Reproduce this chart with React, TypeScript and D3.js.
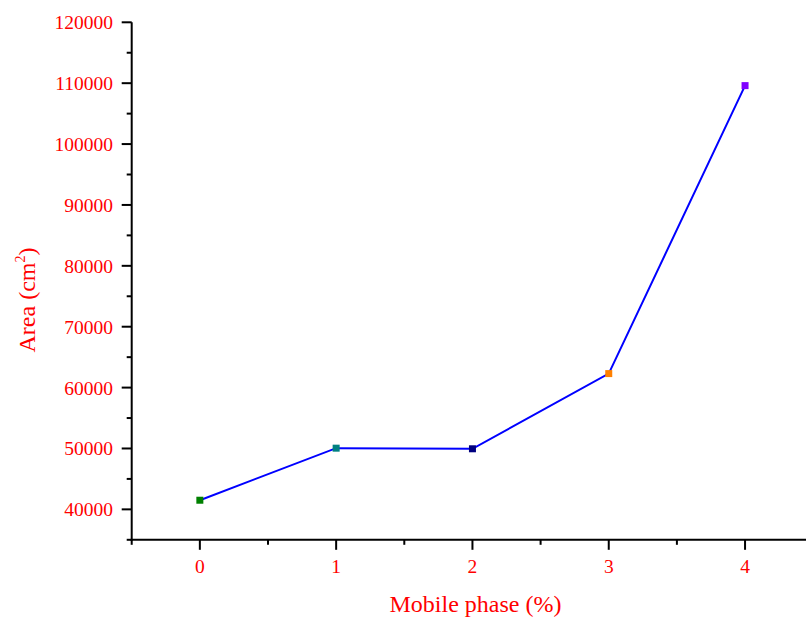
import React from "react";
import * as d3 from "d3";

const xValues = [0, 1, 2, 3, 4];
const areaValues = [41500, 50050, 49950, 62300, 109600];
const markerColors = ["#008000", "#008080", "#000080", "#FF8000", "#8000FF"];
const yTicks = [40000, 50000, 60000, 70000, 80000, 90000, 100000, 110000, 120000];
const yMinorTicks = [35000, 45000, 55000, 65000, 75000, 85000, 95000, 105000, 115000];
const xTicks = [0, 1, 2, 3, 4];
const xMinorTicks = [-0.5, 0.5, 1.5, 2.5, 3.5];

const W = 806;
const H = 624;
const FONT = "'Liberation Serif', 'Times New Roman', serif";

export default function App() {
  const x = d3.scaleLinear().domain([-0.5, 4.5]).range([131.7, 813.2]);
  const y = d3.scaleLinear().domain([35000, 120000]).range([539.8, 22.3]);
  const line = d3
    .line<number>()
    .x((_, i) => x(xValues[i]))
    .y((d) => y(d));
  const x0 = x(-0.5);
  const yb = y(35000);
  return (
    <svg
      width={W}
      height={H}
      style={{ position: "absolute", left: 0, top: 0, background: "#fff" }}
    >
      {/* y axis */}
      <line x1={x0} x2={x0} y1={y(120000)} y2={yb + 1} stroke="#000" strokeWidth={2} />
      {yTicks.map((t) => (
        <g key={t}>
          <line x1={x0 - 10} x2={x0} y1={y(t)} y2={y(t)} stroke="#000" strokeWidth={2} />
          <text
            x={113}
            y={y(t) + 7}
            textAnchor="end"
            fill="#FF0000"
            fontFamily={FONT}
            fontSize={19.5}
          >
            {t}
          </text>
        </g>
      ))}
      {yMinorTicks.map((t) => (
        <line key={t} x1={x0 - 5} x2={x0} y1={y(t)} y2={y(t)} stroke="#000" strokeWidth={2} />
      ))}
      {/* x axis */}
      <line x1={x0 - 1} x2={W} y1={yb} y2={yb} stroke="#000" strokeWidth={2} />
      {xTicks.map((t) => (
        <g key={t}>
          <line x1={x(t)} x2={x(t)} y1={yb} y2={yb + 10} stroke="#000" strokeWidth={2} />
          <text
            x={x(t)}
            y={572.5}
            textAnchor="middle"
            fill="#FF0000"
            fontFamily={FONT}
            fontSize={19.5}
          >
            {t}
          </text>
        </g>
      ))}
      {xMinorTicks.map((t) => (
        <line key={t} x1={x(t)} x2={x(t)} y1={yb} y2={yb + 5} stroke="#000" strokeWidth={2} />
      ))}
      {/* titles */}
      <text
        x={475.5}
        y={612}
        textAnchor="middle"
        fill="#FF0000"
        fontFamily={FONT}
        fontSize={24}
      >
        Mobile phase (%)
      </text>
      <text
        transform="translate(35,300) rotate(-90)"
        textAnchor="middle"
        fill="#FF0000"
        fontFamily={FONT}
        fontSize={24}
      >
        Area (cm
        <tspan fontSize={14} dy={-10}>
          2
        </tspan>
        <tspan dy={10}>)</tspan>
      </text>
      {/* data */}
      <path d={line(areaValues) || ""} fill="none" stroke="#0000FF" strokeWidth={2} />
      {areaValues.map((v, i) => (
        <rect
          key={i}
          x={x(xValues[i]) - 3.5}
          y={y(v) - 3.5}
          width={7}
          height={7}
          fill={markerColors[i]}
        />
      ))}
    </svg>
  );
}
